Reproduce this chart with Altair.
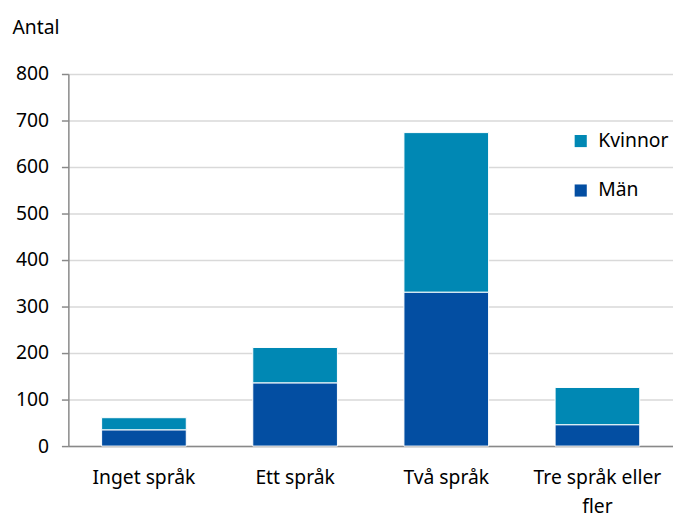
import altair as alt
import pandas as pd

categories = ["Inget språk", "Ett språk", "Två språk", "Tre språk eller fler"]
man = [35, 136, 331, 46]
kvinnor = [26, 76, 343, 80]

rows = []
for c, m, k in zip(categories, man, kvinnor):
    rows.append({"kat": c, "kon": "Män", "antal": m, "ord": 0})
    rows.append({"kat": c, "kon": "Kvinnor", "antal": k, "ord": 1})
df = pd.DataFrame(rows)

FONT = "Noto Sans"
FS = 19.5

chart = alt.Chart(df).mark_bar(stroke="white", strokeWidth=1).encode(
    x=alt.X("kat:N", sort=categories, title=None,
            scale=alt.Scale(paddingInner=0.44, paddingOuter=0.22),
            axis=alt.Axis(labelAngle=0, ticks=False, domainColor="#898989", domainWidth=1.5,
                          labelFontSize=FS, labelFont=FONT, labelColor="#000000", labelPadding=23,
                          labelExpr="datum.label == 'Tre språk eller fler' ? ['Tre språk eller', 'fler'] : datum.label",
                          labelLineHeight=29, labelLimit=300)),
    y=alt.Y("antal:Q", stack="zero", title="Antal",
            scale=alt.Scale(domain=[0, 800]),
            axis=alt.Axis(values=[0, 100, 200, 300, 400, 500, 600, 700, 800], grid=True,
                          gridColor="#d9d9d9", gridWidth=1.5, domainColor="#898989", domainWidth=1.5,
                          tickColor="#898989", tickSize=7, tickWidth=1.5,
                          labelFontSize=FS, labelFont=FONT, labelColor="#000000", labelPadding=13,
                          titleAngle=0, titleX=-57, titleY=-41, titleAlign="left", titleBaseline="alphabetic",
                          titleFontSize=FS, titleFont=FONT, titleFontWeight="normal", titleColor="#000000")),
    color=alt.Color("kon:N", scale=alt.Scale(domain=["Kvinnor", "Män"], range=["#0088b4", "#034ea2"]),
                    legend=alt.Legend(title=None, orient="none", legendX=508, legendY=58,
                                      symbolType="square", symbolSize=150, symbolStrokeWidth=0,
                                      labelFontSize=FS, labelFont=FONT, labelColor="#000000",
                                      rowPadding=29, labelOffset=8)),
    order=alt.Order("ord:Q", sort="ascending"),
).properties(
    width=611, height=376,
    padding={"left": 61, "top": 64, "right": 0, "bottom": 72},
    autosize=alt.AutoSizeParams(type="none"),
).configure_view(stroke=None)

chart.save("out.html", embed_options={"renderer": "svg", "actions": False})
